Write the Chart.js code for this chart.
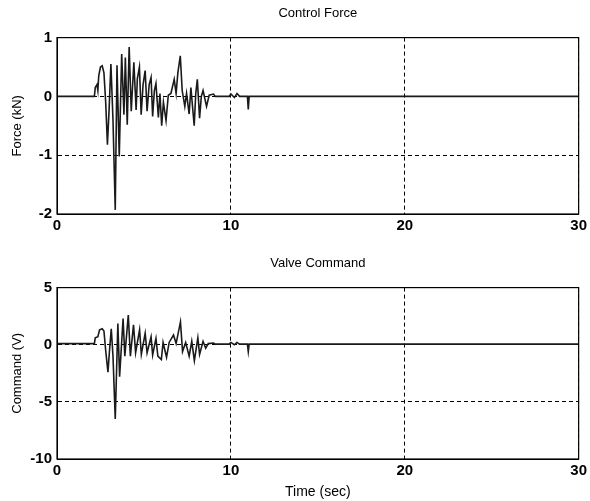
<!DOCTYPE html>
<html>
<head>
<meta charset="utf-8">
<script src="https://cdn.jsdelivr.net/npm/chart.js@4.4.1/dist/chart.umd.min.js"></script>
<style>
  html, body { margin: 0; padding: 0; background: #fff; }
  #wrap { position: relative; width: 590px; height: 501px; }
  #c1 { position: absolute; left: 0; top: 0; }
  #c2 { position: absolute; left: 0; top: 250px; }
</style>
</head>
<body>
<div id="wrap">
  <canvas id="c1" width="590" height="250"></canvas>
  <canvas id="c2" width="590" height="251"></canvas>
</div>
<script>
// control force, kN
const forceTime = [0, 2.15, 2.2, 2.3, 2.35, 2.4, 2.5, 2.6, 2.7, 2.8, 2.9, 3.0, 3.1, 3.22, 3.35, 3.45, 3.58, 3.72, 3.85, 3.93,
  4.04, 4.15, 4.27, 4.42, 4.55, 4.62, 4.74, 4.84, 4.95, 5.07, 5.18, 5.3, 5.41, 5.5, 5.6, 5.69, 5.83, 5.92, 6.02, 6.12,
  6.27, 6.4, 6.55, 6.74, 6.85, 6.95, 7.09, 7.2, 7.35, 7.45, 7.6, 7.7, 7.89, 7.98, 8.07, 8.2, 8.3, 8.4, 8.6, 8.75,
  9.0, 9.1, 9.9, 10.0, 10.2, 10.35, 10.5, 10.95, 11.0, 11.05, 30];
const force = [0, 0, 0.15, 0.2, 0.1, 0.35, 0.5, 0.52, 0.4, -0.1, -0.82, -0.2, 0.55, -0.4, -1.93, 0.53, -1.02, 0.72, -0.31, 0.66,
  -0.48, 0.84, -0.25, 0.58, -0.23, 0.3, 0.5, -0.31, 0.2, 0.44, -0.25, 0.2, 0.32, -0.34, 0.1, 0.22, -0.36, 0.05, -0.5, -0.1,
  -0.41, 0.02, 0.05, 0.29, 0.05, 0.4, 0.69, 0.1, -0.17, 0.05, -0.3, 0.15, -0.5, 0.05, 0.29, -0.37, 0.0, 0.1, -0.17, 0.02,
  0.04, 0, 0, 0.04, -0.02, 0.05, 0, 0, -0.22, 0, 0];

// valve command, V
const valveTime = [0, 2.15, 2.2, 2.35, 2.45, 2.6, 2.7, 2.8, 2.93, 3.02, 3.12, 3.22, 3.35, 3.5, 3.6, 3.8, 3.9, 4.1, 4.22, 4.4,
  4.52, 4.75, 4.85, 5.07, 5.18, 5.41, 5.5, 5.69, 5.8, 6.0, 6.1, 6.3, 6.45, 6.7, 6.85, 7.1, 7.22, 7.4, 7.6, 7.75,
  7.9, 8.1, 8.2, 8.4, 8.55, 8.7, 9.0, 9.1, 9.9, 10.0, 10.2, 10.35, 10.5, 10.95, 11.0, 11.05, 30];
const valve = [0.1, 0.1, 0.6, 0.7, 1.3, 1.4, 1.2, -0.5, -2.4, -0.5, 1.4, -1.0, -6.5, 1.85, -2.8, 2.3, -1.0, 2.6, -1.0, 1.75,
  -0.7, 1.3, -0.85, 1.0, -0.7, 0.7, -0.9, 0.55, -1.0, -1.3, 0.2, -1.1, 0.2, 0.85, 0.1, 2.0, -0.6, 0.2, -1.0, 0.3,
  -1.4, 0.6, -0.85, 0.3, -0.3, 0.1, 0.15, 0.05, 0.05, 0.2, 0.0, 0.2, 0.05, 0.05, -0.6, 0.05, 0.05];

const xTicks = [0, 10, 20, 30];

const FONT = "'Liberation Sans', Arial, sans-serif";

// matlab style box round the axes
const boxPlugin = {
  id: 'box',
  afterDraw(chart) {
    const a = chart.chartArea, ctx = chart.ctx;
    ctx.save();
    ctx.strokeStyle = '#000';
    ctx.lineWidth = 1.2;
    ctx.setLineDash([]);
    ctx.strokeRect(a.left, a.top, a.right - a.left, a.bottom - a.top);
    ctx.restore();
  }
};

function makeChart(id, title, yLabel, xLabel, times, values, yMin, yMax, yStep, xHeight) {
  const pts = times.map((t, i) => ({ x: t, y: values[i] }));
  return new Chart(document.getElementById(id), {
    type: 'line',
    data: {
      datasets: [{
        data: pts,
        borderColor: '#1a1a1a',
        borderWidth: 1.6,
        pointRadius: 0,
        tension: 0,
      }],
    },
    options: {
      responsive: false,
      animation: false,
      layout: { padding: { left: 0, right: 8, top: 0, bottom: 0 } },
      plugins: {
        legend: { display: false },
        tooltip: { enabled: false },
        title: {
          display: true,
          text: title,
          fullSize: false,
          color: '#000',
          font: { family: FONT, size: 13, weight: 'normal' },
          padding: { top: 6, bottom: 16 },
        },
      },
      scales: {
        x: {
          type: 'linear',
          min: 0, max: 30,
          afterBuildTicks: (s) => { s.ticks = xTicks.map((v) => ({ value: v })); },
          afterFit: (s) => { s.height = xHeight; },
          ticks: { color: '#000', padding: 3, font: { family: FONT, size: 15, weight: 'bold' } },
          grid: { color: '#000', lineWidth: 1, drawTicks: false },
          border: { display: true, color: '#000', dash: [4, 3] },
          title: {
            display: !!xLabel,
            text: xLabel,
            color: '#000',
            font: { family: FONT, size: 14 },
            padding: { top: 1, bottom: 0 },
          },
        },
        y: {
          min: yMin, max: yMax,
          ticks: { stepSize: yStep, color: '#000', padding: 5, font: { family: FONT, size: 15, weight: 'bold' } },
          afterFit: (s) => { s.width = 57; },
          grid: { color: '#000', lineWidth: 1, drawTicks: false },
          border: { display: true, color: '#000', dash: [4, 3] },
          title: {
            display: true,
            text: yLabel,
            color: '#000',
            font: { family: FONT, size: 13 },
            padding: { top: 10, bottom: 0 },
          },
        },
      },
    },
    plugins: [boxPlugin],
  });
}

makeChart('c1', 'Control Force', 'Force (kN)', '', forceTime, force, -2, 1, 1, 36);
makeChart('c2', 'Valve Command', 'Command (V)', 'Time (sec)', valveTime, valve, -10, 5, 5, 42);
</script>
</body>
</html>
